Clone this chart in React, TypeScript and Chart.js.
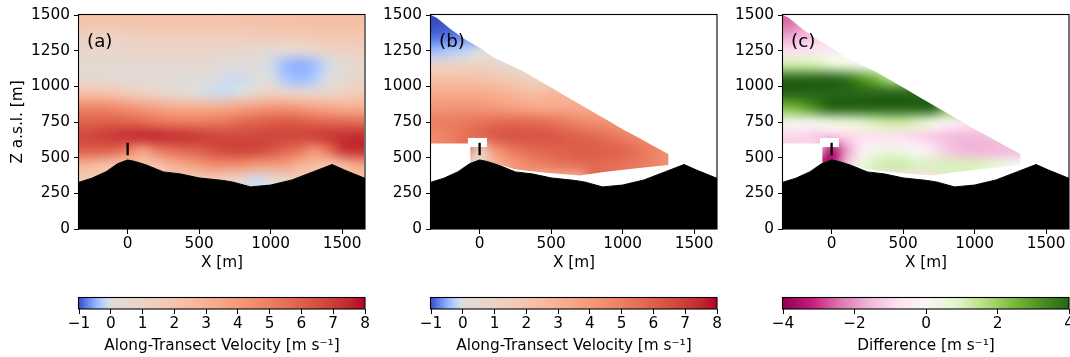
import React, { useEffect, useRef } from "react";
import { Chart, registerables } from "chart.js";

Chart.register(...registerables);
Chart.defaults.font.family = "'DejaVu Sans', sans-serif";
Chart.defaults.font.size = 15.3;
Chart.defaults.color = "#000";

// ---------------- data ----------------
const xTickValues = [0, 500, 1000, 1500];
const zTickValues = [0, 250, 500, 750, 1000, 1250, 1500];
const velocityTickValues = [-1, 0, 1, 2, 3, 4, 5, 6, 7, 8];
const differenceTickValues = [-4, -2, 0, 2, 4];

const xRange = [-340, 1660];
const zRange = [0, 1500];
const velocityRange = [-1, 8];
const differenceRange = [-4, 4];

const panelLabels = ["(a)", "(b)", "(c)"];
const velocityTitle = "Along-Transect Velocity [m s\u207B\u00B9]";
const differenceTitle = "Difference [m s\u207B\u00B9]";

// cell centres of the gridded fields
const cellX = [-300, -200, -100, 0, 100, 200, 300, 400, 500, 600, 700, 800, 900, 1000, 1100, 1200, 1300, 1400, 1500, 1600];
const cellZ = [1450, 1350, 1250, 1150, 1050, 950, 850, 750, 650, 550, 450, 350, 250, 150, 50];

// terrain profile
const terrainX = [-340, -250, -150, -70, 0, 50, 130, 250, 370, 500, 670, 740, 860, 1000, 1150, 1300, 1430, 1520, 1660];
const terrainZ = [328, 356, 402, 458, 484, 474, 449, 400, 386, 358, 340, 328, 295, 308, 344, 402, 452, 412, 355];

// mast marker
const towerX = [0, 0];
const towerZ = [517, 604];

// outline of the lidar coverage (panels b and c)
const coverageX = [-340, -300, -200, -100, 0, 100, 200, 300, 400, 500, 600, 700, 800, 900, 1000, 1100, 1200, 1300, 1320, 1320, 1100, 870, 700, 480, 360, 240, 126, 51, 0, -65, -65, 51, 51, -82, -82, -340];
const coverageZ = [1500, 1480, 1398, 1328, 1270, 1200, 1154, 1107, 1049, 991, 933, 874, 816, 758, 700, 646, 590, 537, 526, 449, 426, 400, 375, 392, 404, 420, 455, 474, 484, 462, 574, 574, 637, 637, 600, 600];

const N = null;

// (a) along-transect velocity, rows top (1450 m) to bottom (50 m)
const velocityA: (number | null)[][] = [
  [2.0, 2.0, 2.0, 2.0, 2.0, 2.0, 2.0, 2.0, 2.0, 2.0, 2.0, 2.1, 2.1, 2.2, 2.2, 2.3, 2.3, 2.3, 2.3, 2.3],
  [1.2, 1.1, 1.1, 1.2, 1.3, 1.4, 1.4, 1.4, 1.4, 1.4, 1.4, 1.4, 1.5, 1.5, 1.6, 1.6, 1.7, 1.8, 1.8, 1.8],
  [0.8, 0.8, 0.8, 0.8, 0.9, 0.9, 0.9, 0.9, 0.9, 0.8, 0.7, 0.6, 0.5, 0.4, 0.4, 0.5, 0.7, 1.0, 1.1, 1.2],
  [0.5, 0.5, 0.5, 0.5, 0.5, 0.5, 0.5, 0.5, 0.5, 0.4, 0.3, 0.2, 0.1, -0.1, -0.4, -0.5, -0.4, -0.1, 0.3, 0.6],
  [0.6, 0.6, 0.5, 0.4, 0.4, 0.3, 0.3, 0.2, 0.1, 0.0, -0.1, -0.1, 0.0, 0.0, -0.3, -0.4, -0.3, 0.0, 0.4, 0.8],
  [2.2, 2.2, 2.0, 1.6, 1.2, 0.9, 0.6, 0.3, 0.0, -0.1, -0.1, 0.0, 0.6, 1.2, 1.0, 0.8, 0.8, 0.9, 1.1, 1.5],
  [4.8, 4.8, 4.6, 4.3, 4.0, 3.7, 3.4, 3.2, 3.2, 3.2, 3.4, 3.7, 4.0, 4.2, 4.2, 4.0, 3.7, 3.4, 3.2, 3.2],
  [5.9, 6.0, 6.0, 5.9, 5.7, 5.4, 5.2, 5.1, 5.1, 5.2, 5.4, 5.7, 5.9, 6.1, 6.2, 6.1, 5.9, 5.8, 5.7, 5.6],
  [6.7, 6.9, 7.1, 7.3, 7.4, 7.4, 7.3, 7.2, 7.0, 6.8, 6.7, 6.7, 6.7, 6.8, 6.8, 6.8, 6.9, 7.1, 7.3, 7.4],
  [6.0, 6.0, 5.8, 5.0, 3.8, 5.0, 5.5, 5.8, 6.0, 6.5, 6.7, 6.8, 6.7, 6.3, 5.8, 5.3, 4.3, 5.3, 7.0, 7.3],
  [3.0, 2.5, 2.0, 2.0, 2.0, 2.0, 3.0, 3.5, 4.0, 4.5, 4.5, 4.5, 4.0, 4.0, 3.8, 3.0, 2.5, 2.0, 2.5, 3.5],
  [1.5, 1.5, 1.5, 1.5, 1.5, 1.5, 1.5, 1.5, 1.5, 1.5, 1.2, 0.6, -0.1, 0.3, 1.0, 1.5, 1.5, 1.5, 1.5, 2.0],
  [1.5, 1.5, 1.5, 1.5, 1.5, 1.5, 1.5, 1.5, 1.5, 1.5, 1.2, 0.6, -0.1, 0.3, 1.0, 1.5, 1.5, 1.5, 1.5, 2.0],
  [1.5, 1.5, 1.5, 1.5, 1.5, 1.5, 1.5, 1.5, 1.5, 1.5, 1.2, 0.6, -0.1, 0.3, 1.0, 1.5, 1.5, 1.5, 1.5, 2.0],
  [1.5, 1.5, 1.5, 1.5, 1.5, 1.5, 1.5, 1.5, 1.5, 1.5, 1.2, 0.6, -0.1, 0.3, 1.0, 1.5, 1.5, 1.5, 1.5, 2.0],
];

// (b) lidar along-transect velocity
const velocityB: (number | null)[][] = [
  [-1.0, -0.95, N, N, N, N, N, N, N, N, N, N, N, N, N, N, N, N, N, N],
  [-0.85, -0.8, -0.7, N, N, N, N, N, N, N, N, N, N, N, N, N, N, N, N, N],
  [-0.4, -0.3, -0.2, 0.0, 0.3, N, N, N, N, N, N, N, N, N, N, N, N, N, N, N],
  [1.0, 1.0, 1.0, 1.0, 0.8, 0.6, 0.4, N, N, N, N, N, N, N, N, N, N, N, N, N],
  [2.2, 2.2, 2.2, 2.2, 2.0, 1.7, 1.4, 1.0, N, N, N, N, N, N, N, N, N, N, N, N],
  [3.3, 3.3, 3.3, 3.3, 3.1, 2.9, 2.6, 2.4, 2.8, 2.8, N, N, N, N, N, N, N, N, N, N],
  [4.2, 4.2, 4.2, 4.2, 4.0, 3.8, 3.6, 3.4, 3.4, 3.4, 3.4, 3.3, N, N, N, N, N, N, N, N],
  [5.0, 5.1, 5.2, 5.4, 5.6, 5.7, 5.7, 5.6, 5.4, 5.1, 4.7, 4.5, 4.3, 4.0, N, N, N, N, N, N],
  [4.6, 5.0, 5.5, 5.8, 6.2, 6.4, 6.4, 6.4, 6.3, 6.1, 5.9, 5.7, 5.4, 5.0, 4.7, 4.5, N, N, N, N],
  [N, N, N, 1.0, 4.0, 5.0, 5.5, 5.7, 5.9, 6.0, 6.1, 6.1, 6.0, 5.9, 5.5, 5.0, 4.5, N, N, N],
  [N, N, N, N, 2.8, 3.8, 4.4, 4.9, 5.2, 5.4, 5.6, 5.7, 5.6, 5.4, 5.2, 4.9, 4.4, N, N, N],
  [N, N, N, N, N, N, N, 2.8, 2.8, 2.8, 2.8, N, N, N, N, N, N, N, N, N],
  [N, N, N, N, N, N, N, N, N, N, N, N, N, N, N, N, N, N, N, N],
  [N, N, N, N, N, N, N, N, N, N, N, N, N, N, N, N, N, N, N, N],
  [N, N, N, N, N, N, N, N, N, N, N, N, N, N, N, N, N, N, N, N],
];

// (c) difference
const differenceC: (number | null)[][] = [
  [-2.5, -2.0, N, N, N, N, N, N, N, N, N, N, N, N, N, N, N, N, N, N],
  [-1.8, -1.5, -1.2, N, N, N, N, N, N, N, N, N, N, N, N, N, N, N, N, N],
  [-0.8, -0.7, -0.5, -0.4, -0.3, N, N, N, N, N, N, N, N, N, N, N, N, N, N, N],
  [1.2, 1.2, 1.1, 0.8, 0.5, 0.2, 0.0, N, N, N, N, N, N, N, N, N, N, N, N, N],
  [4.0, 4.2, 4.3, 4.3, 3.8, 3.2, 2.6, 1.8, N, N, N, N, N, N, N, N, N, N, N, N],
  [4.6, 4.8, 5.0, 5.0, 5.0, 4.9, 4.8, 4.7, 4.6, 4.2, N, N, N, N, N, N, N, N, N, N],
  [2.4, 2.8, 3.4, 4.0, 4.4, 4.7, 4.8, 4.9, 4.9, 4.8, 4.6, 2.5, N, N, N, N, N, N, N, N],
  [0.3, 0.2, 0.3, 0.5, 0.7, 0.9, 1.1, 1.3, 1.3, 1.0, 0.5, -0.1, -0.5, -0.6, N, N, N, N, N, N],
  [-1.0, -1.0, -1.2, -1.2, -1.0, -0.8, -0.7, -0.7, -0.8, -1.0, -1.2, -1.4, -1.5, -1.5, -1.4, -1.2, N, N, N, N],
  [N, N, N, -3.5, -2.0, -0.5, 0.3, 0.5, 0.3, 0.0, -0.5, -1.2, -1.5, -1.6, -1.6, -1.5, -1.5, N, N, N],
  [N, N, N, N, -1.5, 0.5, 1.0, 1.2, 1.2, 1.0, 1.0, 1.0, 1.0, 1.0, 0.8, 0.5, 0.0, N, N, N],
  [N, N, N, N, N, N, N, -0.8, -0.8, -0.8, -0.8, N, N, N, N, N, N, N, N, N],
  [N, N, N, N, N, N, N, N, N, N, N, N, N, N, N, N, N, N, N, N],
  [N, N, N, N, N, N, N, N, N, N, N, N, N, N, N, N, N, N, N, N],
  [N, N, N, N, N, N, N, N, N, N, N, N, N, N, N, N, N, N, N, N],
];

// ---------------- colour maps ----------------
const coolwarmR = [0.2298, 0.2662, 0.3039, 0.3428, 0.383, 0.4244, 0.4667, 0.5096, 0.553, 0.5963, 0.6392, 0.6813, 0.7222, 0.7615, 0.7987, 0.8335, 0.8654, 0.8978, 0.9241, 0.9445, 0.9589, 0.9673, 0.97, 0.9668, 0.958, 0.9437, 0.9239, 0.899, 0.8692, 0.8346, 0.7956, 0.7525, 0.7057];
const coolwarmG = [0.2987, 0.3531, 0.4065, 0.4588, 0.5094, 0.5581, 0.6046, 0.6483, 0.6889, 0.7261, 0.7596, 0.789, 0.814, 0.8343, 0.8498, 0.8602, 0.8654, 0.8489, 0.8274, 0.8009, 0.7698, 0.7341, 0.6943, 0.6504, 0.6028, 0.5518, 0.4973, 0.4396, 0.3783, 0.3129, 0.2413, 0.1572, 0.0156];
const coolwarmB = [0.7537, 0.8015, 0.845, 0.8837, 0.9174, 0.9456, 0.9682, 0.9848, 0.9954, 0.9998, 0.9982, 0.9904, 0.9766, 0.9569, 0.9317, 0.9011, 0.8654, 0.8209, 0.7745, 0.7267, 0.678, 0.6288, 0.5794, 0.5303, 0.4818, 0.4342, 0.388, 0.3432, 0.3003, 0.2593, 0.2205, 0.1841, 0.1502];
const piygHex = ["#8e0152", "#c51b7d", "#de77ae", "#f1b6da", "#fde0ef", "#f7f7f7", "#e6f5d0", "#b8e186", "#7fbc41", "#4d9221", "#276419"];

const coolwarmTable = coolwarmR.map((r, i) => [r * 255, coolwarmG[i] * 255, coolwarmB[i] * 255]);
const piygTable = piygHex.map((h) => [parseInt(h.slice(1, 3), 16), parseInt(h.slice(3, 5), 16), parseInt(h.slice(5, 7), 16)]);

function sampleTable(t: number[][], f: number): number[] {
  const n = t.length - 1;
  const p = Math.max(0, Math.min(1, f)) * n;
  const i = Math.min(n - 1, Math.floor(p));
  const w = p - i;
  return [0, 1, 2].map((k) => t[i][k] * (1 - w) + t[i + 1][k] * w);
}
function velocityColor(v: number): number[] {
  const f = v < 0 ? 0.5 + 0.5 * Math.max(v, velocityRange[0]) / -velocityRange[0] : 0.5 + 0.5 * Math.min(v, velocityRange[1]) / velocityRange[1];
  return sampleTable(coolwarmTable, f);
}
function differenceColor(v: number): number[] {
  const f = (v - differenceRange[0]) / (differenceRange[1] - differenceRange[0]);
  return sampleTable(piygTable, f);
}
const rgb = (c: number[]) => `rgb(${Math.round(c[0])},${Math.round(c[1])},${Math.round(c[2])})`;
const fmt = (v: number | string) => {
  const n = Number(v);
  return n < 0 ? "\u2212" + Math.abs(n) : String(n);
};

const FONT = 15.3;
const LABEL_FONT = 18.3;

function buildFieldImage(field: (number | null)[][], colorFn: (v: number) => number[]) {
  const rows = field.length;
  const cols = field[0].length;
  const valid: [number, number, number][] = [];
  field.forEach((r, i) => r.forEach((v, j) => { if (v !== null) valid.push([i, j, v]); }));
  const c = document.createElement("canvas");
  c.width = cols;
  c.height = rows;
  const cx = c.getContext("2d")!;
  const img = cx.createImageData(cols, rows);
  for (let i = 0; i < rows; i++) {
    for (let j = 0; j < cols; j++) {
      let v = field[i][j];
      if (v === null) {
        let best = Infinity;
        for (const [vi, vj, vv] of valid) {
          const d = (vi - i) * (vi - i) + (vj - j) * (vj - j);
          if (d < best) { best = d; v = vv; }
        }
      }
      const col = colorFn(v as number);
      const k = (i * cols + j) * 4;
      img.data[k] = col[0];
      img.data[k + 1] = col[1];
      img.data[k + 2] = col[2];
      img.data[k + 3] = 255;
    }
  }
  cx.putImageData(img, 0, 0);
  return c;
}

function createPanel(canvas: HTMLCanvasElement, field: (number | null)[][], colorFn: (v: number) => number[], label: string, yTitle: string, masked: boolean) {
  const image = buildFieldImage(field, colorFn);
  const plugin = {
    id: "fieldPlugin",
    beforeDatasetsDraw(chart: any) {
      const { ctx, chartArea: a, scales } = chart;
      const xs = scales.x;
      const ys = scales.y;
      ctx.save();
      ctx.beginPath();
      ctx.rect(a.left, a.top, a.right - a.left, a.bottom - a.top);
      ctx.clip();
      if (masked) {
        ctx.beginPath();
        coverageX.forEach((mx, i) => {
          const px = xs.getPixelForValue(mx);
          const py = ys.getPixelForValue(coverageZ[i]);
          if (i === 0) ctx.moveTo(px, py);
          else ctx.lineTo(px, py);
        });
        ctx.closePath();
        ctx.clip();
      }
      const dx = cellX[1] - cellX[0];
      const dz = cellZ[0] - cellZ[1];
      const l = xs.getPixelForValue(cellX[0] - dx / 2);
      const r = xs.getPixelForValue(cellX[cellX.length - 1] + dx / 2);
      const t = ys.getPixelForValue(cellZ[0] + dz / 2);
      const b = ys.getPixelForValue(cellZ[cellZ.length - 1] - dz / 2);
      ctx.imageSmoothingEnabled = true;
      ctx.imageSmoothingQuality = "high";
      ctx.drawImage(image, l, t, r - l, b - t);
      ctx.restore();
    },
    afterDraw(chart: any) {
      const { ctx, chartArea: a } = chart;
      ctx.save();
      ctx.strokeStyle = "#000";
      ctx.lineWidth = 1.1;
      ctx.strokeRect(a.left - 0.5, a.top - 0.5, a.right - a.left + 0.5, a.bottom - a.top + 0.5);
      ctx.fillStyle = "#000";
      ctx.font = `${LABEL_FONT}px 'DejaVu Sans'`;
      ctx.textBaseline = "alphabetic";
      ctx.textAlign = "left";
      ctx.fillText(label, a.left + 8, a.top + 31.7);
      ctx.restore();
    },
  };
  return new Chart(canvas, {
    type: "line",
    data: {
      datasets: [
        {
          data: towerX.map((x, i) => ({ x, y: towerZ[i] })),
          borderColor: "#000",
          borderWidth: 2.3,
          pointRadius: 0,
          fill: false,
        },
        {
          data: terrainX.map((x, i) => ({ x, y: terrainZ[i] })),
          borderColor: "#000",
          backgroundColor: "#000",
          borderWidth: 1,
          pointRadius: 0,
          fill: "start",
          tension: 0,
        },
      ],
    },
    options: {
      animation: false,
      responsive: false,
      devicePixelRatio: 1,
      events: [],
      layout: { padding: { left: 0, right: 15, top: 15, bottom: 0 } },
      plugins: { legend: { display: false }, tooltip: { enabled: false } },
      scales: {
        x: {
          type: "linear",
          min: xRange[0],
          max: xRange[1],
          afterBuildTicks: (s: any) => { s.ticks = xTickValues.map((value) => ({ value })); },
          afterFit: (s: any) => { s.height = 46; },
          ticks: { color: "#000", font: { size: FONT }, padding: 1.2, maxRotation: 0, autoSkip: false, callback: (v: any) => fmt(v) },
          grid: { display: true, drawOnChartArea: false, drawTicks: true, tickLength: 5, tickColor: "#000" },
          border: { display: false },
          title: { display: true, text: "X [m]", color: "#000", font: { size: FONT }, padding: { top: 0, bottom: 2.5 } },
        },
        y: {
          type: "linear",
          min: zRange[0],
          max: zRange[1],
          afterBuildTicks: (s: any) => { s.ticks = zTickValues.map((value) => ({ value })); },
          afterFit: (s: any) => { s.width = 79; },
          ticks: { color: "#000", font: { size: FONT }, padding: 4, autoSkip: false, callback: (v: any) => fmt(v) },
          grid: { display: true, drawOnChartArea: false, drawTicks: true, tickLength: 5, tickColor: "#000" },
          border: { display: false },
          title: { display: yTitle !== "", text: yTitle, color: "#000", font: { size: FONT }, padding: { top: 9.3, bottom: 0 } },
        },
      },
    },
    plugins: [plugin],
  } as any);
}

function createColorbar(canvas: HTMLCanvasElement, range: number[], tickValues: number[], colorFn: (v: number) => number[], title: string) {
  const plugin = {
    id: "colorbarPlugin",
    beforeDatasetsDraw(chart: any) {
      const { ctx, chartArea: a, scales } = chart;
      const xs = scales.x;
      ctx.save();
      for (let px = Math.floor(a.left); px < Math.ceil(a.right); px++) {
        const v = xs.getValueForPixel(px + 0.5);
        ctx.fillStyle = rgb(colorFn(v));
        ctx.fillRect(px, a.top, 1, a.bottom - a.top);
      }
      ctx.restore();
    },
    afterDraw(chart: any) {
      const { ctx, chartArea: a } = chart;
      ctx.save();
      ctx.strokeStyle = "#000";
      ctx.lineWidth = 1.1;
      ctx.strokeRect(a.left - 0.5, a.top - 0.5, a.right - a.left + 0.5, a.bottom - a.top + 0.5);
      ctx.restore();
    },
  };
  return new Chart(canvas, {
    type: "line",
    data: { datasets: [] },
    options: {
      animation: false,
      responsive: false,
      devicePixelRatio: 1,
      events: [],
      layout: { padding: { left: 79, right: 15, top: 8, bottom: 0 } },
      plugins: { legend: { display: false }, tooltip: { enabled: false } },
      scales: {
        x: {
          type: "linear",
          min: range[0],
          max: range[1],
          afterBuildTicks: (s: any) => { s.ticks = tickValues.map((value) => ({ value })); },
          afterFit: (s: any) => { s.height = 48; },
          ticks: { color: "#000", font: { size: FONT }, padding: 1.1, maxRotation: 0, autoSkip: false, callback: (v: any) => fmt(v) },
          grid: { display: true, drawOnChartArea: false, drawTicks: true, tickLength: 5, tickColor: "#000" },
          border: { display: false },
          title: { display: true, text: title, color: "#000", font: { size: FONT }, padding: { top: 0, bottom: 1.8 } },
        },
        y: { display: false, min: 0, max: 1 },
      },
    },
    plugins: [plugin],
  } as any);
}

export default function App() {
  const a = useRef<HTMLCanvasElement>(null);
  const b = useRef<HTMLCanvasElement>(null);
  const c = useRef<HTMLCanvasElement>(null);
  const ca = useRef<HTMLCanvasElement>(null);
  const cb = useRef<HTMLCanvasElement>(null);
  const cc = useRef<HTMLCanvasElement>(null);

  useEffect(() => {
    const charts = [
      createPanel(a.current!, velocityA, velocityColor, panelLabels[0], "Z a.s.l. [m]", false),
      createPanel(b.current!, velocityB, velocityColor, panelLabels[1], "", true),
      createPanel(c.current!, differenceC, differenceColor, panelLabels[2], "", true),
      createColorbar(ca.current!, velocityRange, velocityTickValues, velocityColor, velocityTitle),
      createColorbar(cb.current!, velocityRange, velocityTickValues, velocityColor, velocityTitle),
      createColorbar(cc.current!, differenceRange, differenceTickValues, differenceColor, differenceTitle),
    ];
    return () => charts.forEach((ch) => ch.destroy());
  }, []);

  const pos = (left: number, top: number): React.CSSProperties => ({ position: "absolute", left, top });

  return (
    <div style={{ position: "fixed", left: 0, top: 0, width: 1070, height: 357, overflow: "hidden", background: "#fff" }}>
      <canvas ref={a} width={380} height={275} style={pos(0, 0)} />
      <canvas ref={b} width={380} height={275} style={pos(352, 0)} />
      <canvas ref={c} width={380} height={275} style={pos(704, 0)} />
      <canvas ref={ca} width={380} height={67} style={pos(0, 290)} />
      <canvas ref={cb} width={380} height={67} style={pos(352, 290)} />
      <canvas ref={cc} width={380} height={67} style={pos(704, 290)} />
    </div>
  );
}
